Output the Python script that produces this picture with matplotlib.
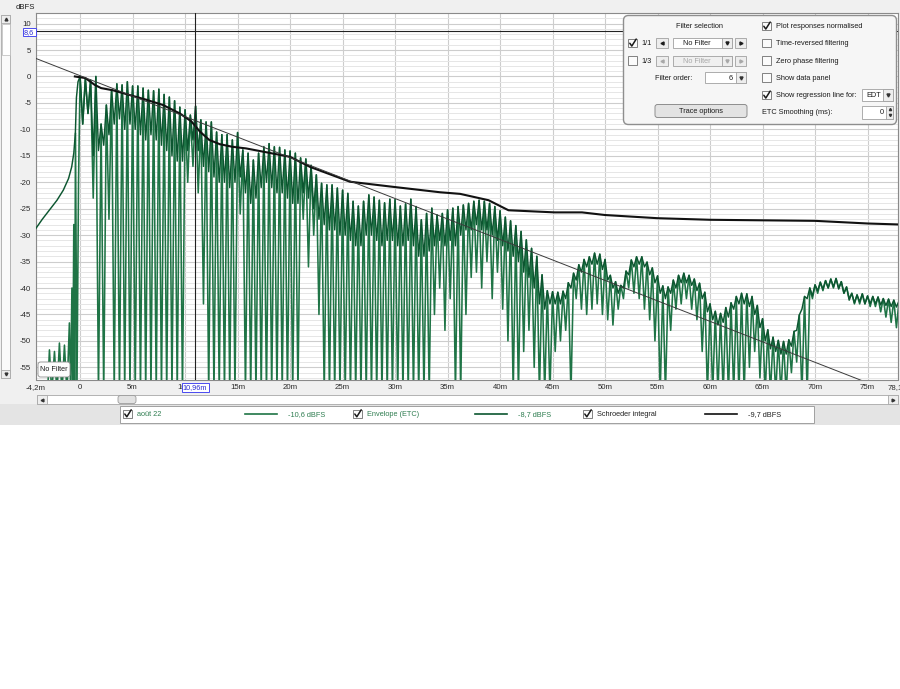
import numpy as np
import matplotlib.pyplot as plt
from matplotlib.patches import Rectangle, FancyBboxPatch

# ---- values (distance in m, level in dBFS) ----
# impulse ("août 22") before the direct sound
ir_pre_x = [-4.2, -3.1, -2.92, -2.7, -2.44, -2.2, -1.97, -1.73, -1.49, -1.25,
            -1.02, -0.9, -0.78, -0.7, -0.6, -0.52, -0.44, -0.3, -0.15]
ir_pre_y = [-60, -60, -51.7, -60, -52.0, -60, -50.4, -60, -50.8, -60,
            -46.6, -60, -40, -60, -28, -60, -10.7, -60, -20]

# peak levels, one every 0.5 m from 0 to 78 m (shared by impulse and ETC)
peak_levels = [
    0.0, -0.4, -0.7, 0.0, -9.0, -5.4, -2.5, -1.4, -1.6, -1.0,
    -1.8, -1.8, -2.2, -2.6, -2.7, -2.4, -3.4, -3.9, -4.6, -5.8,
    -6.3, -7.3, -5.6, -8.2, -8.6, -8.6, -10.5, -11.0, -11.0, -12.0,
    -10.6, -13.9, -14.5, -15.8, -14.5, -13.3, -12.7, -13.3, -13.4, -13.9,
    -14.1, -14.5, -15.4, -15.6, -16.8, -18.6, -20.2, -20.5, -20.5, -21.1,
    -21.5, -22.1, -23.6, -24.5, -23.6, -22.4, -22.8, -23.4, -23.9, -23.2,
    -23.3, -24.5, -24.1, -23.2, -24.6, -27.1, -25.9, -24.9, -26.2, -25.9,
    -25.2, -24.9, -24.6, -24.3, -24.0, -23.6, -23.4, -23.6, -24.0, -24.6,
    -25.4, -26.6, -27.3, -28.2, -29.3, -30.9, -32.5, -34.0, -37.5, -40.5,
    -40.7, -40.8, -40.6, -39.0, -37.2, -35.6, -34.6, -34.1, -33.4, -33.6,
    -34.6, -37.6, -38.8, -39.5, -36.8, -34.7, -34.1, -34.1, -35.1, -36.2,
    -37.7, -39.6, -39.8, -38.5, -37.6, -37.2, -37.6, -38.3, -39.1, -40.8,
    -43.0, -44.4, -44.8, -43.7, -42.8, -41.6, -41.0, -41.1, -41.6, -43.3,
    -45.8, -47.9, -49.3, -49.9, -50.1, -49.8, -48.2, -45.1, -41.6, -40.0,
    -39.4, -38.9, -38.6, -38.3, -38.2, -38.8, -39.8, -41.0, -41.3, -41.1,
    -41.5, -41.6, -41.7, -42.0, -42.1, -42.3, -42.4]

# impulse dips, at 0.25, 0.75 ... 77.75 m (-60 = below the axis)
ir_dip_levels = [
    -9, -7, -23, -60, -60, -27, -60, -60, -60, -60,
    -60, -60, -60, -60, -60, -60, -60, -60, -60, -60,
    -20, -17, -22, -43, -60, -60, -60, -60, -60, -60,
    -26, -60, -60, -60, -60, -60, -60, -60, -60, -60,
    -60, -60, -27, -36, -30, -45, -60, -60, -60, -60,
    -60, -60, -60, -60, -60, -60, -60, -60, -60, -60,
    -60, -60, -60, -60, -60, -60, -60, -45, -40, -48,
    -42, -60, -60, -45, -38, -37, -40, -35, -42, -37,
    -44, -50, -60, -60, -52, -48, -55, -60, -60, -60,
    -52, -50, -48, -60, -42, -44, -45, -44, -43, -45,
    -46, -47, -44, -42, -40, -41, -42, -44, -46, -50,
    -60, -60, -48, -44, -43, -42, -44, -46, -52, -60,
    -60, -60, -60, -60, -60, -60, -60, -55, -52, -57,
    -60, -60, -60, -60, -60, -56, -54, -60, -60, -42,
    -41, -40.5, -40, -40, -40, -41, -42, -43, -43, -43,
    -43.5, -43.5, -44.5, -45.5, -46.5, -47.5]

# envelope (ETC)
etc_pre_x = [-4.2, -3.6, -2.9, -2.2, -1.6, -1.1, -0.8, -0.6, -0.45, -0.35, -0.2]
etc_pre_y = [-28.7, -27.0, -25.2, -23.4, -21.5, -19.3, -17.1, -14.5, -10.7, -4.0, -1.0]
etc_dip_levels = [
    -9, -7, -15, -14, -13, -11, -9, -8, -10, -9,
    -10, -11, -12, -11, -12, -13, -14, -15, -16, -16,
    -14, -12, -14, -17, -18, -19, -20, -20, -21, -20,
    -19, -22, -24, -23, -21, -20, -21, -22, -22, -23,
    -24, -24, -22, -23, -25, -27, -28, -29, -29, -30,
    -30, -31, -32, -32, -30, -30, -31, -32, -31, -31,
    -32, -32, -31, -32, -34, -34, -33, -32, -31, -32,
    -31, -32, -30, -29, -29, -28, -29, -29, -30, -31,
    -32, -33, -34, -35, -37, -38, -40, -43, -44, -43,
    -43, -43, -42, -40, -38.5, -37, -36, -35.5, -35.5, -36.5,
    -38.5, -40, -41, -40, -37.5, -36, -35.5, -36, -37.5, -39,
    -41, -42, -41, -40, -39, -39, -39.5, -40.5, -42, -44.5,
    -46, -47, -46.5, -45.5, -44, -43, -43, -43.5, -45, -47.5,
    -50, -51.5, -52, -52.5, -52.5, -51, -48, -44, -42, -41.5,
    -40.5, -40.2, -40, -39.8, -40.2, -41, -42.3, -42.8, -42.6, -43,
    -43, -43, -43.2, -43.3, -43.5, -43.6]

schroeder_x = [-0.5, 0.5, 1.4, 2.0, 3.1, 4.7, 6.3, 7.9, 9.5, 10.6, 11.4, 12.3, 13.3,
               14.5, 15.8, 20.0, 21.9, 25.7, 29.5, 34.3, 36.2, 38.9, 40.8, 45.2,
               47.8, 50.0, 55.0, 60.0, 70.0, 75.0, 78.2]
schroeder_y = [0.0, -0.3, -1.6, -2.2, -2.6, -3.5, -4.4, -5.4, -7.0, -8.5, -10.4, -12.0,
               -12.8, -13.3, -13.6, -15.2, -17.1, -19.9, -20.8, -21.9, -22.2, -23.4,
               -25.3, -25.7, -25.7, -26.2, -26.8, -27.1, -27.3, -27.8, -28.0]

regression_x = [-4.2, 78.2]
regression_y = [3.4, -60.4]

cursor_x = 10.96
cursor_y = 8.6

x_ticks = [-4.2, 0, 5, 10, 15, 20, 25, 30, 35, 40, 45, 50, 55, 60, 65, 70, 75, 77.9]
x_tick_labels = ['-4,2m', '0', '5m', '10m', '15m', '20m', '25m', '30m', '35m', '40m',
                 '45m', '50m', '55m', '60m', '65m', '70m', '75m', '78,1m']
y_ticks = [10, 5, 0, -5, -10, -15, -20, -25, -30, -35, -40, -45, -50, -55]

legend_names = ['août 22', 'Envelope (ETC)', 'Schroeder integral']
legend_values = ['-10,6 dBFS', '-8,7 dBFS', '-9,7 dBFS']

# ---- build the zigzag traces ----
grid_x = np.arange(len(peak_levels) + len(ir_dip_levels)) * 0.25
ir_y = np.empty(len(grid_x))
ir_y[0::2] = peak_levels
ir_y[1::2] = ir_dip_levels
etc_y = np.empty(len(grid_x))
etc_y[0::2] = peak_levels
etc_y[1::2] = etc_dip_levels

ir_x_all = np.concatenate([ir_pre_x, grid_x])
ir_y_all = np.concatenate([ir_pre_y, ir_y])
etc_x_all = np.concatenate([etc_pre_x, grid_x])
etc_y_all = np.concatenate([etc_pre_y, etc_y])

W, H = 900, 689
FS = 5.3
plt.rcParams['font.family'] = ['Liberation Sans', 'DejaVu Sans']
green_ir = '#1f7446'
green_etc = '#0c5630'
green_txt = '#2f7d50'
text_col = '#1c1c1c'

fig = plt.figure(figsize=(9, 6.89), dpi=100)

bg = fig.add_axes([0, 0, 1, 1], zorder=0)
bg.set_xlim(0, W)
bg.set_ylim(H, 0)
bg.axis('off')
bg.add_patch(Rectangle((0, 0), W, 425, facecolor='#f0f0f0', edgecolor='none'))

# plot area: px 36..898 x 13..379.5
ax = fig.add_axes([36 / W, 1 - 379.5 / H, 862 / W, 366.5 / H], zorder=1)
ax.set_xlim(-4.2, 77.9)
ax.set_ylim(-57.3, 12.0)
ax.set_facecolor('white')
for s in ax.spines.values():
    s.set_color('#8a8a8a')
    s.set_linewidth(0.8)

ax.set_xticks(x_ticks)
ax.set_xticklabels(x_tick_labels)
ax.set_yticks(y_ticks)
ax.set_yticklabels([str(v) for v in y_ticks])
ax.set_yticks(np.arange(-57, 12, 1), minor=True)
ax.tick_params(axis='both', which='both', length=0, labelsize=5.6, colors='#2a2a2a')
ax.tick_params(axis='x', pad=3)
ax.tick_params(axis='y', pad=3.5)
ax.set_axisbelow(True)
ax.grid(axis='y', which='minor', color='#e6e6e6', lw=0.7)
ax.grid(axis='y', which='major', color='#cdcdcd', lw=0.8)
ax.grid(axis='x', which='major', color='#cdcdcd', lw=0.8)

ax.plot(ir_x_all, ir_y_all, color=green_ir, lw=1.15, zorder=3)
ax.plot(etc_x_all, etc_y_all, color=green_etc, lw=1.05, zorder=4)
ax.plot(schroeder_x, schroeder_y, color='#111111', lw=1.5, zorder=5)
ax.plot(regression_x, regression_y, color='#3a3a3a', lw=0.7, zorder=6)
ax.axvline(cursor_x, color='#222222', lw=0.8, zorder=7)
ax.axhline(cursor_y, color='#222222', lw=0.8, zorder=7)

# ---- UI overlay in pixel coordinates ----
ui = fig.add_axes([0, 0, 1, 1], zorder=2)
ui.set_xlim(0, W)
ui.set_ylim(H, 0)
ui.axis('off')
ui.patch.set_alpha(0)


def txt(x, y, s, color=text_col, ha='left', size=FS):
    ui.text(x, y + 0.6, s, color=color, ha=ha, va='center', fontsize=size)


def box(x, y, w, h, face='white', edge='#9a9a9a', lw=0.7, rounded=False):
    if rounded:
        p = FancyBboxPatch((x, y), w, h, boxstyle='round,pad=0,rounding_size=2.5',
                           facecolor=face, edgecolor=edge, lw=lw)
    else:
        p = Rectangle((x, y), w, h, facecolor=face, edgecolor=edge, lw=lw)
    ui.add_patch(p)


def checkbox(x, y, checked):
    box(x, y, 8.5, 8.5, face='#fbfbfb', edge='#6e6e6e', lw=0.6)
    if checked:
        ui.plot([x + 1.8, x + 3.8, x + 8.2], [y + 4.5, y + 7.3, y + 0.3],
                color='#1a1a1a', lw=1.1, solid_capstyle='round')


def arrow(x, y, kind, color='#333333', ms=2.6):
    ui.plot([x], [y], marker=kind, ms=ms, color=color, mec=color)


# dBFS label and left scrollbar
txt(16, 6.5, 'dBFS', size=5.6)
box(1, 15, 9, 363, face='#fafafa', edge='#a8a8a8', lw=0.6)
box(1, 15, 9, 8, face='#ececec', edge='#a8a8a8', lw=0.6)
arrow(5.5, 19, '^', ms=2)
box(1, 370, 9, 8, face='#ececec', edge='#a8a8a8', lw=0.6)
arrow(5.5, 374, 'v', ms=2)
box(1.5, 24, 8, 31, face='white', edge='#b8b8b8', lw=0.5)

# cursor readouts
box(22.5, 28, 13.5, 7.5, face='white', edge='#4a4af0', lw=0.7)
txt(29.2, 31.5, '8,6', color='#2a2ad0', ha='center', size=5.2)
box(181.5, 382.5, 27, 9.5, face='white', edge='#4a4af0', lw=0.7)
txt(195, 386.8, '10,96m', color='#2a2ad0', ha='center', size=5.2)

# "No Filter" tag
box(38, 362, 32, 15, face='#fdfdfd', edge='#8c8c8c', lw=0.6, rounded=True)
txt(54, 369, 'No Filter', ha='center', size=5.2)

# horizontal scrollbar
box(37, 395, 861, 9, face='white', edge='#a8a8a8', lw=0.6)
box(37, 395, 10, 9, face='#eeeeee', edge='#a8a8a8', lw=0.6)
arrow(42, 399.5, '<', ms=2)
box(888, 395, 10, 9, face='#eeeeee', edge='#a8a8a8', lw=0.6)
arrow(893, 399.5, '>', ms=2)
box(118, 395.5, 18, 8, face='#e2e2e2', edge='#9a9a9a', lw=0.6, rounded=True)

# legend strip
bg.add_patch(Rectangle((0, 404), W, 21, facecolor='#e4e4e4', edgecolor='none'))
box(120, 405.5, 694, 17, face='white', edge='#a0a0a0', lw=0.7)
leg_x = [123, 353, 583]
leg_colors = [green_ir, green_etc, '#111111']
leg_text_colors = [green_txt, green_txt, '#222222']
for i in range(3):
    x0 = leg_x[i]
    checkbox(x0, 409.5, True)
    txt(x0 + 14, 413.5, legend_names[i], color=leg_text_colors[i])
    ui.plot([x0 + 122, x0 + 154], [414, 414], color=leg_colors[i], lw=1.2)
    txt(x0 + 165, 413.5, legend_values[i], color=leg_text_colors[i])

# control panel (top right)
ui.add_patch(FancyBboxPatch((623.5, 15.5), 273, 109, boxstyle='round,pad=0,rounding_size=5',
                            facecolor='#f6f6f6', edgecolor='#8e8e8e', lw=1.0))
txt(700, 25.5, 'Filter selection', ha='center')
for yc, checked, label, on in [(43, True, '1/1', True), (60.5, False, '1/3', False)]:
    tcol = text_col if on else '#a8a8a8'
    checkbox(628, yc - 4.25, checked)
    txt(641, yc, label)
    box(656, yc - 5, 12, 10, face='#ededed', edge='#a0a0a0', lw=0.6)
    arrow(662, yc, '<', color=tcol, ms=2.2)
    box(673, yc - 5, 59, 10, face='white' if on else '#f0f0f0', edge='#a0a0a0', lw=0.6)
    txt(697, yc, 'No Filter', color=tcol, ha='center')
    box(722, yc - 5, 10, 10, face='#ededed', edge='#a0a0a0', lw=0.6)
    arrow(727, yc, 'v', color=tcol, ms=2.2)
    box(735, yc - 5, 11, 10, face='#ededed', edge='#a0a0a0', lw=0.6)
    arrow(740.5, yc, '>', color=tcol, ms=2.2)
txt(655, 77.5, 'Filter order:')
box(705, 72, 41, 11, face='white', edge='#a0a0a0', lw=0.6)
txt(733, 77.5, '6', ha='right')
box(736, 72, 10, 11, face='#ededed', edge='#a0a0a0', lw=0.6)
arrow(741, 77.5, 'v', ms=2.2)
box(655, 104.5, 92, 13, face='#e3e3e3', edge='#8e8e8e', lw=0.7, rounded=True)
txt(701, 110.5, 'Trace options', ha='center')

right_rows = [(26, True, 'Plot responses normalised'),
              (43, False, 'Time-reversed filtering'),
              (60.5, False, 'Zero phase filtering'),
              (77.5, False, 'Show data panel'),
              (95, True, 'Show regression line for:')]
for yc, checked, label in right_rows:
    checkbox(762, yc - 4.25, checked)
    txt(776, yc, label)
box(862, 89, 31, 12, face='white', edge='#a0a0a0', lw=0.6)
txt(874, 95, 'EDT', ha='center')
box(883, 89, 10, 12, face='#ededed', edge='#a0a0a0', lw=0.6)
arrow(888, 95, 'v', ms=2.2)
txt(762, 112, 'ETC Smoothing (ms):')
box(862, 105.5, 31, 13, face='white', edge='#a0a0a0', lw=0.6)
txt(884, 112, '0', ha='right')
box(886, 105.5, 7, 13, face='#ededed', edge='#a0a0a0', lw=0.6)
arrow(889.5, 109, '^', ms=1.6)
arrow(889.5, 115, 'v', ms=1.6)

fig.savefig('out.png', dpi=100)
